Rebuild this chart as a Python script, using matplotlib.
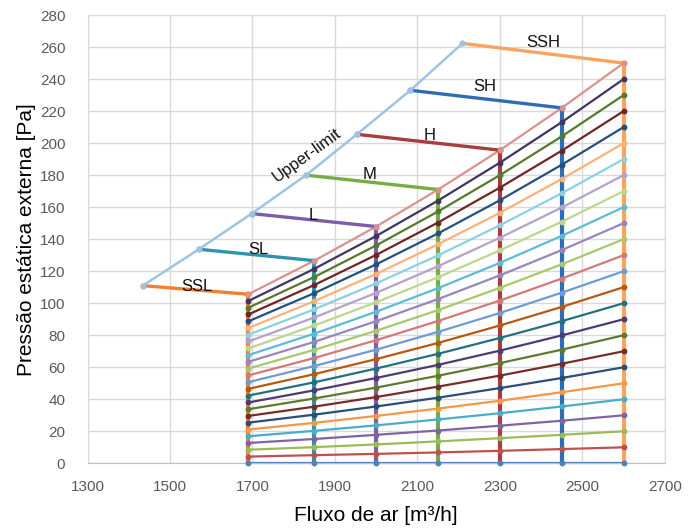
import matplotlib
matplotlib.use("Agg")
import matplotlib.pyplot as plt

# ---------------- data ----------------
airflow = [1690, 1850, 2000, 2150, 2300, 2450, 2600]

# system curves (one row per curve, values at each airflow point)
curve_values = [
    [0, 0, 0, 0, 0, 0, 0],
    [4.2, 5.1, 5.9, 6.8, 7.8, 8.9, 10],
    [8.5, 10.1, 11.8, 13.7, 15.7, 17.8, 20],
    [12.7, 15.2, 17.8, 20.5, 23.5, 26.6, 30],
    [16.9, 20.3, 23.7, 27.4, 31.3, 35.5, 40],
    [21.1, 25.3, 29.6, 34.2, 39.1, 44.4, 50],
    [25.4, 30.4, 35.5, 41.0, 47.0, 53.3, 60],
    [29.6, 35.4, 41.4, 47.9, 54.8, 62.2, 70],
    [33.8, 40.5, 47.3, 54.7, 62.6, 71.0, 80],
    [38.0, 45.6, 53.3, 61.5, 70.4, 79.9, 90],
    [42.3, 50.6, 59.2, 68.4, 78.3, 88.8, 100],
    [46.5, 55.7, 65.1, 75.2, 86.1, 97.7, 110],
    [50.7, 60.8, 71.0, 82.1, 93.9, 106.6, 120],
    [54.9, 65.8, 76.9, 88.9, 101.7, 115.4, 130],
    [59.2, 70.9, 82.8, 95.7, 109.6, 124.3, 140],
    [63.4, 75.9, 88.8, 102.6, 117.4, 133.2, 150],
    [67.6, 81.0, 94.7, 109.4, 125.2, 142.1, 160],
    [71.8, 86.1, 100.6, 116.2, 133.0, 150.9, 170],
    [76.1, 91.1, 106.5, 123.1, 140.9, 159.8, 180],
    [80.3, 96.2, 112.4, 129.9, 148.7, 168.7, 190],
    [84.5, 101.3, 118.3, 136.8, 156.5, 177.6, 200],
    [88.7, 106.3, 124.3, 143.6, 164.3, 186.5, 210],
    [93.0, 111.4, 130.2, 150.4, 172.2, 195.3, 220],
    [97.2, 116.4, 136.1, 157.3, 180.0, 204.2, 230],
    [101.4, 121.5, 142.0, 164.1, 187.8, 213.1, 240],
    [105.6, 126.6, 147.9, 171.0, 195.6, 222.0, 250],
]

curve_colors = [
    "#4F81BD", "#C0504D", "#9BBB59", "#8064A2", "#4BACC6", "#F79646",
    "#2C4D75", "#772C2A", "#5F7A30", "#4D3B72", "#23707E", "#B65A10",
    "#6E9BD3", "#D27A78", "#A8C86E", "#9985BC", "#5BBCD6", "#BCD68E",
    "#B3A2CC", "#8CD0E2", "#FAB27A", "#24507F", "#6E2624", "#557A2C",
    "#3F3560", "#DB918D",
]

# upper-limit points (start of each fan-speed line)
upper_x = [1434, 1570, 1698, 1830, 1953, 2083, 2209]
upper_y = [111, 133.7, 156, 180, 205.5, 233, 262.3]

fan_labels = ["SSL", "SL", "L", "M", "H", "SH", "SSH"]
fan_colors = ["#F07F2F", "#2F93AD", "#7B5EA7", "#77AC43", "#A93C3C", "#2E6DB4", "#F8A460"]
label_x = [1565, 1714, 1847, 1985, 2129, 2264, 2405]
label_y = [110.3, 133.7, 155, 180.5, 205, 235.2, 262.7]

x_ticks = [1300, 1500, 1700, 1900, 2100, 2300, 2500, 2700]
y_ticks = list(range(0, 281, 20))

# ---------------- figure ----------------
plt.rcParams["font.family"] = ["Liberation Sans", "DejaVu Sans"]
fig = plt.figure(figsize=(6.89, 5.28), dpi=100)
ax = fig.add_axes([0.127, 0.1225, 0.838, 0.849])

ax.set_xlim(1300, 2700)
ax.set_ylim(0, 280)
ax.set_xticks(x_ticks)
ax.set_yticks(y_ticks)
ax.grid(True, color="#D9D9D9", linewidth=1.0, zorder=0)
ax.set_axisbelow(True)
for s in ["top", "right", "left"]:
    ax.spines[s].set_color("#D9D9D9")
ax.spines["bottom"].set_color("#BFBFBF")
ax.tick_params(length=0, labelsize=11, labelcolor="#595959")
ax.tick_params(axis="x", pad=12)
ax.tick_params(axis="y", pad=16)

MS = 3.2

# system curves (lines)
for vals, col in zip(curve_values, curve_colors):
    ax.plot(airflow, vals, color=col, linewidth=1.6, zorder=2, clip_on=False)

# fan-speed lines: upper-limit point -> top of column -> down to zero
n = len(curve_values)
for i, (lab, col) in enumerate(zip(fan_labels, fan_colors)):
    xs = [upper_x[i], airflow[i]]
    ys = [upper_y[i], curve_values[-1][i]]
    ax.plot(xs, ys, color=col, linewidth=2.4, marker="o", markersize=MS, zorder=3)
    col_x = [airflow[i]] * n
    col_y = [row[i] for row in curve_values]
    ax.plot(col_x, col_y, color=col, linewidth=3.0, zorder=3, clip_on=False)
    ax.text(label_x[i], label_y[i], lab, fontsize=12, color="#111111",
            ha="center", va="center", zorder=6)

# markers of system curves on top
for vals, col in zip(curve_values, curve_colors):
    ax.plot(airflow, vals, linestyle="none", marker="o", markersize=MS,
            color=col, zorder=4, clip_on=False)

# upper-limit line
ax.plot(upper_x, upper_y, color="#9DC3E6", linewidth=1.8, marker="o",
        markersize=MS, zorder=3)
ax.text(1831, 192.6, "Upper-limit", fontsize=12, color="#111111", rotation=36,
        ha="center", va="center", rotation_mode="anchor", zorder=6)

ax.set_xlabel("Fluxo de ar [m³/h]", fontsize=15, labelpad=9)
ax.set_ylabel("Pressão estática externa [Pa]", fontsize=15, labelpad=3)

fig.savefig("out.png", dpi=100)
